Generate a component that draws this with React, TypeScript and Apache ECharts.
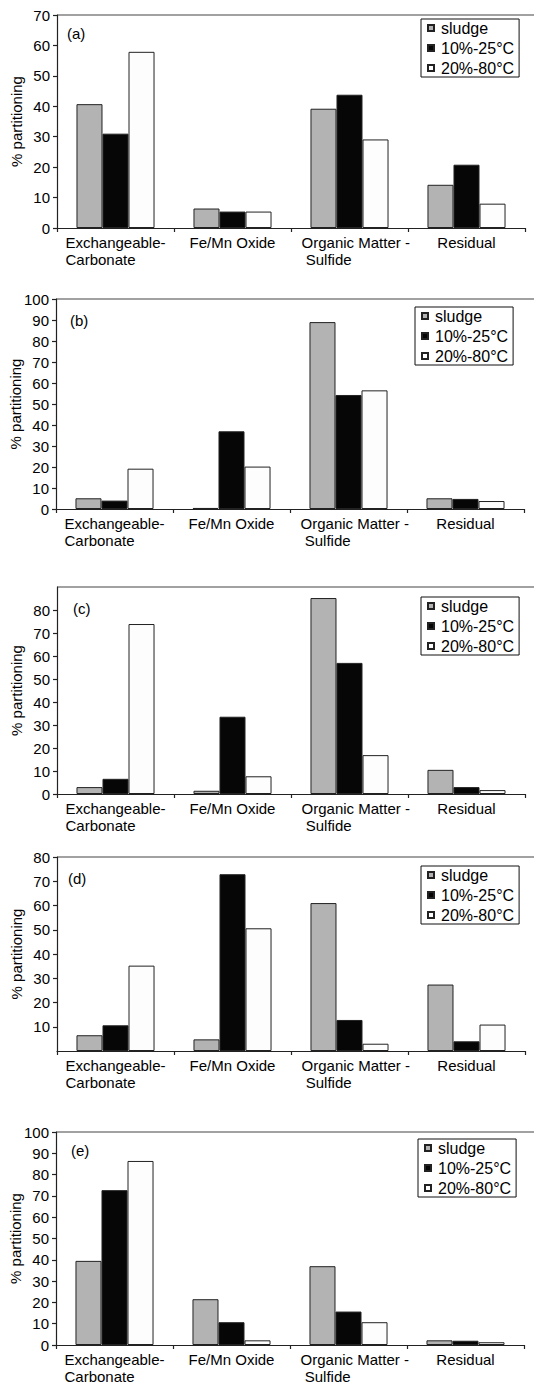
import React, { useEffect, useRef } from 'react';
import * as echarts from 'echarts';

const categories = ['Exchangeable-\nCarbonate', 'Fe/Mn Oxide', 'Organic Matter -\nSulfide', 'Residual'];
const seriesNames = ['sludge', '10%-25°C', '20%-80°C'];
const panelLabels = ['(a)', '(b)', '(c)', '(d)', '(e)'];
const yAxisName = '% partitioning';
const yMax = [70, 100, 90, 80, 100];
const yInterval = 10;

// panel (a)
const sludgeA = [40.7, 6.4, 39.2, 14.2];
const tenA = [31.0, 5.4, 43.8, 20.8];
const twentyA = [57.9, 5.4, 29.1, 8.0];
// panel (b)
const sludgeB = [5.1, 0.5, 89.0, 5.1];
const tenB = [4.0, 37.0, 54.3, 4.8];
const twentyB = [19.2, 20.2, 56.5, 3.8];
// panel (c)
const sludgeC = [3.0, 1.4, 85.2, 10.5];
const tenC = [6.6, 33.6, 57.0, 3.0];
const twentyC = [73.9, 7.7, 16.9, 1.7];
// panel (d)
const sludgeD = [6.5, 4.8, 61.0, 27.4];
const tenD = [10.6, 72.9, 12.8, 4.0];
const twentyD = [35.2, 50.6, 3.0, 10.9];
// panel (e)
const sludgeE = [39.5, 21.5, 37.0, 2.2];
const tenE = [72.7, 10.7, 15.7, 2.0];
const twentyE = [86.4, 2.2, 10.7, 1.3];

const panelData = [
  [sludgeA, tenA, twentyA],
  [sludgeB, tenB, twentyB],
  [sludgeC, tenC, twentyC],
  [sludgeD, tenD, twentyD],
  [sludgeE, tenE, twentyE],
];

const FONT = "'Liberation Sans', Arial, sans-serif";
const barColors = ['#b3b3b3', '#060606', '#fdfdfd'];
const plotWidth = 468;
const layout = [
  { left: 57, top: 15, height: 213, labelX: 67, labelY: 33, legendLeft: 421, legendTop: 19 },
  { left: 56, top: 299, height: 210, labelX: 70, labelY: 320, legendLeft: 415, legendTop: 307 },
  { left: 57, top: 587, height: 207, labelX: 73, labelY: 608, legendLeft: 421, legendTop: 597 },
  { left: 57, top: 857, height: 194, labelX: 68, labelY: 878, legendLeft: 421, legendTop: 866 },
  { left: 56, top: 1132, height: 213, labelX: 71, labelY: 1150, legendLeft: 418, legendTop: 1139 },
];
// number of non-breaking spaces used to nudge each x-label line, per category
const labelIndent: Record<number, number[]> = { 2: [3, 4] };

export default function App() {
  const ref = useRef<HTMLDivElement>(null);

  useEffect(() => {
    if (!ref.current) return;
    const chart = echarts.init(ref.current, undefined, { renderer: 'svg' });

    const grid = layout.map((l) => ({
      left: l.left,
      top: l.top,
      width: plotWidth,
      height: l.height,
      containLabel: false,
      outerBoundsMode: 'none',
    }));

    const xAxis = layout.map((_, i) => ({
      type: 'category',
      gridIndex: i,
      data: categories,
      axisLine: { show: true, lineStyle: { color: '#222', width: 1.2 } },
      axisTick: { show: true, length: 4, lineStyle: { color: '#222', width: 1.2 } },
      axisLabel: {
        margin: 6,
        interval: 0,
        color: '#000',
        fontFamily: FONT,
        fontSize: 15,
        lineHeight: 17,
        formatter: (v: string, idx: number) => {
          const ind = labelIndent[idx] || [];
          return v
            .split('\n')
            .map((line, k) => `{l|${'\u00A0'.repeat(ind[k] || 0)}${line}}`)
            .join('\n');
        },
        rich: {
          l: { align: 'left', fontFamily: FONT, fontSize: 15, lineHeight: 17, color: '#000' },
        },
      },
    }));

    const yAxis = layout.map((_, i) => ({
      type: 'value',
      gridIndex: i,
      min: 0,
      max: yMax[i],
      interval: yInterval,
      name: yAxisName,
      nameLocation: 'middle',
      nameGap: 33,
      nameMoveOverlap: false,
      nameTextStyle: { fontFamily: FONT, fontSize: 15, color: '#000' },
      splitLine: { show: false },
      axisLine: { show: true, lineStyle: { color: '#222', width: 1.2 } },
      axisTick: {
        show: true,
        length: 4,
        lineStyle: { color: '#222', width: 1.2 },
        ...(i === 2 ? { customValues: [0, 10, 20, 30, 40, 50, 60, 70, 80] } : {}),
      },
      axisLabel: {
        margin: 7,
        color: '#000',
        fontFamily: FONT,
        fontSize: 15,
        showMaxLabel: i !== 2,
        showMinLabel: i !== 3,
      },
    }));

    const series: any[] = [];
    panelData.forEach((group, i) => {
      group.forEach((vals, s) => {
        series.push({
          type: 'bar',
          name: seriesNames[s],
          xAxisIndex: i,
          yAxisIndex: i,
          data: vals,
          barGap: '0%',
          barCategoryGap: '33.3%',
          itemStyle: { color: barColors[s], borderColor: '#222', borderWidth: 1 },
          emphasis: { disabled: true },
        });
      });
    });

    const legend = layout.map((l) => ({
      left: l.legendLeft,
      top: l.legendTop,
      orient: 'vertical',
      data: seriesNames,
      icon: 'rect',
      itemWidth: 6,
      itemHeight: 6,
      itemGap: 4,
      padding: [1, 5, 1, 6],
      borderColor: '#111',
      borderWidth: 1,
      backgroundColor: '#fff',
      selectedMode: false,
      textStyle: { fontFamily: FONT, fontSize: 16, lineHeight: 16, color: '#000', padding: [0, 0, 0, 2] },
    }));

    const graphic: any[] = [];
    layout.forEach((l, i) => {
      graphic.push({
        type: 'line',
        shape: { x1: l.left, y1: l.top, x2: 534, y2: l.top },
        style: { stroke: '#444', lineWidth: 1.2 },
        silent: true,
      });
      graphic.push({
        type: 'text',
        x: l.labelX,
        y: l.labelY,
        style: { text: panelLabels[i], fontFamily: FONT, fontSize: 15, fill: '#000', verticalAlign: 'middle', align: 'left' },
        silent: true,
      });
    });

    chart.setOption({
      animation: false,
      backgroundColor: '#fff',
      grid,
      xAxis,
      yAxis,
      legend,
      series,
      graphic,
    } as any);

    return () => chart.dispose();
  }, []);

  return <div ref={ref} style={{ position: 'absolute', left: 0, top: 0, width: 534, height: 1385 }} />;
}
